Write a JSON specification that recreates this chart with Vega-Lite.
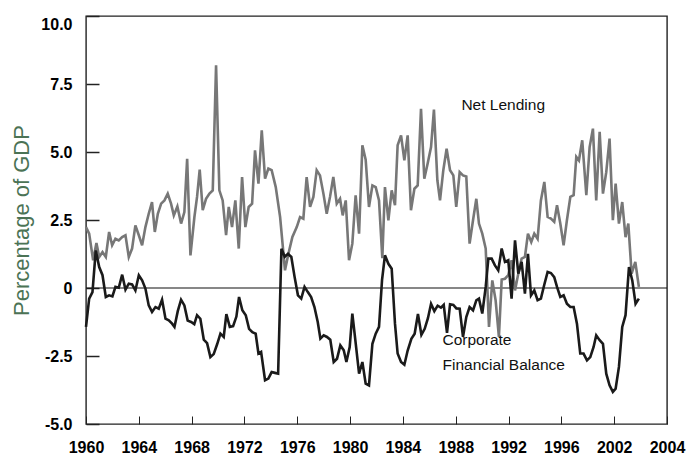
{
  "$schema": "https://vega.github.io/schema/vega-lite/v6.json",
  "width": 581,
  "height": 408,
  "autosize": {"type": "none"},
  "padding": {"left": 86, "top": 16, "right": 21, "bottom": 32},
  "background": "white",
  "config": {"view": {"stroke": "#222222", "strokeWidth": 1.4}, "font": "Liberation Sans"},
  "datasets": {
    "nl": [
      {"t":1960.0,"v":2.24},{"t":1960.24,"v":2.0},{"t":1960.54,"v":1.02},{"t":1960.79,"v":1.65},{"t":1961.0,"v":1.14},{"t":1961.25,"v":1.32},{"t":1961.5,"v":1.14},{"t":1961.75,"v":2.06},{"t":1961.98,"v":1.57},{"t":1962.23,"v":1.81},{"t":1962.48,"v":1.75},{"t":1962.74,"v":1.87},{"t":1962.99,"v":1.94},{"t":1963.24,"v":1.14},{"t":1963.49,"v":1.45},{"t":1963.74,"v":2.3},{"t":1964.0,"v":1.94},{"t":1964.25,"v":1.57},{"t":1964.5,"v":2.24},{"t":1964.75,"v":2.73},{"t":1965.0,"v":3.16},{"t":1965.21,"v":2.06},{"t":1965.44,"v":2.73},{"t":1965.69,"v":3.1},{"t":1965.94,"v":3.22},{"t":1966.19,"v":3.47},{"t":1966.44,"v":3.1},{"t":1966.65,"v":2.67},{"t":1966.92,"v":3.0},{"t":1967.2,"v":2.37},{"t":1967.45,"v":2.79},{"t":1967.66,"v":4.75},{"t":1967.91,"v":1.2},{"t":1968.21,"v":2.61},{"t":1968.41,"v":3.35},{"t":1968.61,"v":4.35},{"t":1968.84,"v":2.86},{"t":1969.09,"v":3.28},{"t":1969.35,"v":3.47},{"t":1969.6,"v":3.59},{"t":1969.85,"v":8.19},{"t":1970.1,"v":3.59},{"t":1970.35,"v":3.22},{"t":1970.61,"v":1.94},{"t":1970.81,"v":2.98},{"t":1971.06,"v":2.24},{"t":1971.31,"v":3.22},{"t":1971.57,"v":1.45},{"t":1971.82,"v":4.08},{"t":1972.07,"v":2.24},{"t":1972.32,"v":2.98},{"t":1972.58,"v":3.1},{"t":1972.8,"v":5.06},{"t":1973.06,"v":3.84},{"t":1973.31,"v":5.8},{"t":1973.56,"v":4.02},{"t":1973.81,"v":4.39},{"t":1974.06,"v":4.33},{"t":1974.37,"v":3.71},{"t":1974.7,"v":2.61},{"t":1975.07,"v":0.65},{"t":1975.33,"v":1.26},{"t":1975.63,"v":1.88},{"t":1975.96,"v":2.24},{"t":1976.21,"v":2.61},{"t":1976.46,"v":2.55},{"t":1976.71,"v":4.08},{"t":1976.97,"v":2.98},{"t":1977.22,"v":3.35},{"t":1977.47,"v":4.33},{"t":1977.72,"v":4.14},{"t":1977.98,"v":3.47},{"t":1978.23,"v":2.73},{"t":1978.48,"v":3.35},{"t":1978.73,"v":4.08},{"t":1978.99,"v":3.1},{"t":1979.24,"v":3.28},{"t":1979.44,"v":2.67},{"t":1979.67,"v":3.22},{"t":1979.92,"v":1.02},{"t":1980.17,"v":1.63},{"t":1980.42,"v":3.41},{"t":1980.68,"v":2.0},{"t":1980.93,"v":5.25},{"t":1981.18,"v":4.72},{"t":1981.43,"v":2.98},{"t":1981.69,"v":3.77},{"t":1981.94,"v":3.71},{"t":1982.19,"v":3.22},{"t":1982.44,"v":1.1},{"t":1982.64,"v":3.71},{"t":1982.9,"v":2.49},{"t":1983.15,"v":3.59},{"t":1983.4,"v":3.04},{"t":1983.6,"v":5.25},{"t":1983.86,"v":5.61},{"t":1984.11,"v":4.69},{"t":1984.36,"v":5.61},{"t":1984.61,"v":2.86},{"t":1984.87,"v":3.65},{"t":1985.12,"v":3.77},{"t":1985.37,"v":6.59},{"t":1985.62,"v":4.02},{"t":1985.87,"v":4.57},{"t":1986.13,"v":5.18},{"t":1986.35,"v":6.56},{"t":1986.61,"v":3.96},{"t":1986.81,"v":3.22},{"t":1987.06,"v":4.33},{"t":1987.31,"v":5.12},{"t":1987.57,"v":4.33},{"t":1987.82,"v":4.14},{"t":1988.04,"v":2.98},{"t":1988.3,"v":4.26},{"t":1988.55,"v":4.14},{"t":1988.8,"v":4.1},{"t":1989.05,"v":1.63},{"t":1989.31,"v":2.49},{"t":1989.56,"v":3.28},{"t":1989.76,"v":2.37},{"t":1990.01,"v":2.0},{"t":1990.27,"v":1.45},{"t":1990.52,"v":-1.43},{"t":1990.77,"v":0.28},{"t":1991.02,"v":-0.45},{"t":1991.27,"v":-1.8},{"t":1991.48,"v":0.31},{"t":1991.73,"v":0.34},{"t":1991.98,"v":0.47},{"t":1992.23,"v":1.02},{"t":1992.49,"v":-0.09},{"t":1992.74,"v":0.53},{"t":1992.99,"v":1.08},{"t":1993.24,"v":1.14},{"t":1993.47,"v":2.0},{"t":1993.72,"v":1.69},{"t":1993.95,"v":2.0},{"t":1994.2,"v":1.81},{"t":1994.45,"v":3.22},{"t":1994.71,"v":3.9},{"t":1994.96,"v":2.61},{"t":1995.21,"v":2.55},{"t":1995.46,"v":2.43},{"t":1995.67,"v":3.04},{"t":1995.92,"v":2.37},{"t":1996.17,"v":1.57},{"t":1996.42,"v":2.49},{"t":1996.68,"v":3.35},{"t":1996.93,"v":3.41},{"t":1997.13,"v":4.82},{"t":1997.33,"v":4.69},{"t":1997.58,"v":5.43},{"t":1997.89,"v":3.41},{"t":1998.14,"v":5.18},{"t":1998.39,"v":5.86},{"t":1998.64,"v":3.22},{"t":1998.9,"v":5.74},{"t":1999.15,"v":3.47},{"t":1999.4,"v":4.26},{"t":1999.65,"v":5.49},{"t":1999.9,"v":2.49},{"t":2000.11,"v":3.84},{"t":2000.36,"v":2.37},{"t":2000.61,"v":3.16},{"t":2000.86,"v":1.87},{"t":2001.07,"v":2.37},{"t":2001.32,"v":0.53},{"t":2001.6,"v":0.96},{"t":2001.87,"v":0.04}
    ],
    "cfb": [
      {"t":1960.0,"v":-1.43},{"t":1960.24,"v":-0.39},{"t":1960.49,"v":-0.15},{"t":1960.74,"v":1.38},{"t":1961.0,"v":0.77},{"t":1961.25,"v":0.47},{"t":1961.5,"v":-0.33},{"t":1961.75,"v":-0.27},{"t":1962.0,"v":-0.31},{"t":1962.23,"v":0.04},{"t":1962.48,"v":0.01},{"t":1962.74,"v":0.49},{"t":1962.99,"v":-0.06},{"t":1963.24,"v":0.16},{"t":1963.49,"v":0.13},{"t":1963.74,"v":-0.09},{"t":1964.0,"v":0.47},{"t":1964.25,"v":0.28},{"t":1964.5,"v":-0.02},{"t":1964.75,"v":-0.64},{"t":1965.0,"v":-0.88},{"t":1965.26,"v":-0.7},{"t":1965.51,"v":-0.76},{"t":1965.76,"v":-0.43},{"t":1966.02,"v":-1.13},{"t":1966.27,"v":-1.19},{"t":1966.52,"v":-1.31},{"t":1966.7,"v":-1.43},{"t":1966.95,"v":-0.85},{"t":1967.2,"v":-0.43},{"t":1967.45,"v":-0.64},{"t":1967.7,"v":-1.2},{"t":1967.96,"v":-1.25},{"t":1968.2,"v":-1.33},{"t":1968.41,"v":-1.0},{"t":1968.66,"v":-1.13},{"t":1968.92,"v":-1.9},{"t":1969.17,"v":-2.03},{"t":1969.42,"v":-2.54},{"t":1969.67,"v":-2.43},{"t":1969.93,"v":-2.07},{"t":1970.18,"v":-1.68},{"t":1970.43,"v":-1.8},{"t":1970.63,"v":-0.96},{"t":1970.89,"v":-1.43},{"t":1971.14,"v":-1.4},{"t":1971.39,"v":-1.05},{"t":1971.59,"v":-0.33},{"t":1971.84,"v":-0.82},{"t":1972.1,"v":-1.0},{"t":1972.35,"v":-1.5},{"t":1972.6,"v":-1.62},{"t":1972.85,"v":-1.68},{"t":1973.06,"v":-2.41},{"t":1973.26,"v":-2.35},{"t":1973.56,"v":-3.39},{"t":1973.81,"v":-3.33},{"t":1974.06,"v":-3.09},{"t":1974.31,"v":-3.12},{"t":1974.55,"v":-3.15},{"t":1974.8,"v":1.44},{"t":1975.05,"v":1.15},{"t":1975.3,"v":1.26},{"t":1975.55,"v":1.14},{"t":1975.8,"v":0.4},{"t":1976.05,"v":-0.27},{"t":1976.3,"v":-0.39},{"t":1976.55,"v":0.04},{"t":1976.8,"v":-0.15},{"t":1977.05,"v":-0.33},{"t":1977.3,"v":-0.7},{"t":1977.55,"v":-1.25},{"t":1977.75,"v":-1.86},{"t":1978.0,"v":-1.74},{"t":1978.25,"v":-1.8},{"t":1978.5,"v":-1.9},{"t":1978.76,"v":-2.72},{"t":1979.01,"v":-2.6},{"t":1979.26,"v":-2.11},{"t":1979.52,"v":-2.29},{"t":1979.72,"v":-2.72},{"t":1979.97,"v":-2.17},{"t":1980.17,"v":-0.94},{"t":1980.37,"v":-1.8},{"t":1980.68,"v":-3.15},{"t":1980.93,"v":-2.72},{"t":1981.18,"v":-3.52},{"t":1981.43,"v":-3.58},{"t":1981.69,"v":-2.05},{"t":1981.94,"v":-1.68},{"t":1982.19,"v":-1.43},{"t":1982.42,"v":0.3},{"t":1982.64,"v":1.2},{"t":1982.9,"v":0.89},{"t":1983.15,"v":0.71},{"t":1983.4,"v":-1.31},{"t":1983.6,"v":-2.41},{"t":1983.86,"v":-2.72},{"t":1984.11,"v":-2.82},{"t":1984.36,"v":-2.3},{"t":1984.64,"v":-1.87},{"t":1984.89,"v":-1.68},{"t":1985.14,"v":-0.95},{"t":1985.4,"v":-1.72},{"t":1985.65,"v":-1.5},{"t":1985.9,"v":-1.1},{"t":1986.13,"v":-0.58},{"t":1986.38,"v":-0.85},{"t":1986.63,"v":-0.65},{"t":1986.88,"v":-0.72},{"t":1987.09,"v":-0.62},{"t":1987.34,"v":-1.65},{"t":1987.57,"v":-0.6},{"t":1987.82,"v":-0.62},{"t":1988.05,"v":-0.75},{"t":1988.3,"v":-0.76},{"t":1988.55,"v":-1.8},{"t":1988.8,"v":-1.07},{"t":1989.05,"v":-0.7},{"t":1989.31,"v":-0.82},{"t":1989.56,"v":-0.45},{"t":1989.76,"v":-0.39},{"t":1990.01,"v":-0.94},{"t":1990.27,"v":0.04},{"t":1990.47,"v":1.08},{"t":1990.72,"v":1.08},{"t":1990.97,"v":0.83},{"t":1991.22,"v":0.65},{"t":1991.48,"v":1.45},{"t":1991.73,"v":0.96},{"t":1991.98,"v":1.02},{"t":1992.23,"v":-0.39},{"t":1992.49,"v":1.75},{"t":1992.74,"v":0.53},{"t":1992.99,"v":0.96},{"t":1993.24,"v":-0.21},{"t":1993.47,"v":1.26},{"t":1993.7,"v":-0.27},{"t":1993.95,"v":-0.09},{"t":1994.2,"v":-0.45},{"t":1994.45,"v":-0.39},{"t":1994.71,"v":0.13},{"t":1994.96,"v":0.59},{"t":1995.21,"v":0.55},{"t":1995.46,"v":0.4},{"t":1995.67,"v":0.04},{"t":1995.92,"v":-0.33},{"t":1996.17,"v":-0.27},{"t":1996.42,"v":-0.58},{"t":1996.68,"v":-0.7},{"t":1996.93,"v":-0.7},{"t":1997.18,"v":-1.31},{"t":1997.43,"v":-2.41},{"t":1997.68,"v":-2.41},{"t":1997.94,"v":-2.66},{"t":1998.19,"v":-2.54},{"t":1998.44,"v":-2.17},{"t":1998.64,"v":-1.74},{"t":1998.9,"v":-1.92},{"t":1999.15,"v":-2.05},{"t":1999.4,"v":-3.15},{"t":1999.65,"v":-3.58},{"t":1999.9,"v":-3.82},{"t":2000.11,"v":-3.7},{"t":2000.36,"v":-2.9},{"t":2000.61,"v":-1.43},{"t":2000.86,"v":-1.0},{"t":2001.12,"v":0.77},{"t":2001.37,"v":0.28},{"t":2001.62,"v":-0.58},{"t":2001.87,"v":-0.39}
    ]
  },
  "layer": [
    {
      "data": {"values": [{}]},
      "mark": {"type": "rule", "color": "#111111", "strokeWidth": 1.1},
      "encoding": {"y": {"datum": 0, "type": "quantitative"}}
    },
    {
      "data": {"name": "nl"},
      "mark": {"type": "line", "color": "#777777", "strokeWidth": 2.6},
      "encoding": {
        "x": {
          "field": "t", "type": "quantitative",
          "scale": {"domain": [1960, 2004], "nice": false, "zero": false},
          "axis": {
            "values": [1960,1961,1962,1963,1964,1965,1966,1967,1968,1969,1970,1971,1972,1973,1974,1975,1976,1977,1978,1979,1980,1981,1982,1983,1984,1985,1986,1987,1988,1989,1990,1991,1992,1993,1994,1995,1996,1997,1998,1999,2000,2001,2002,2003,2004],
            "labelExpr": "datum.value % 4 == 0 ? (datum.value == 2000 ? '2002' : format(datum.value, 'd')) : ''",
            "tickSize": -8, "tickColor": "#222222", "tickWidth": 1,
            "domain": false, "grid": false,
            "labelFont": "Liberation Sans", "labelFontWeight": "bold", "labelFontSize": 16, "labelColor": "#000000",
            "labelPadding": 23, "labelFlush": false, "labelOverlap": false,
            "title": null
          }
        },
        "y": {
          "field": "v", "type": "quantitative",
          "scale": {"domain": [-5, 10], "nice": false, "zero": false},
          "axis": {
            "values": [-5, -2.5, 0, 2.5, 5, 7.5, 10],
            "labelExpr": "datum.value == 0 ? '0' : (datum.value < 0 ? '-' : '') + format(abs(datum.value), '.1f')",
            "tickSize": -13, "tickColor": "#222222", "tickWidth": 1.5,
            "domain": false, "grid": false,
            "labelFont": "Liberation Sans", "labelFontWeight": "bold", "labelFontSize": 16, "labelColor": "#000000",
            "labelPadding": 27,
            "labelBaseline": {"condition": {"test": "datum.value == 10", "value": "top"}, "value": "middle"},
            "title": "Percentage of GDP",
            "titleFont": "Liberation Sans", "titleFontWeight": "normal", "titleFontSize": 22, "titleColor": "#4b7355",
            "titlePadding": 7
          }
        }
      }
    },
    {
      "data": {"name": "cfb"},
      "mark": {"type": "line", "color": "#1a1a1a", "strokeWidth": 2.6},
      "encoding": {
        "x": {"field": "t", "type": "quantitative"},
        "y": {"field": "v", "type": "quantitative"}
      }
    },
    {
      "data": {"values": [{}]},
      "mark": {"type": "text", "text": "Net Lending", "align": "left", "baseline": "alphabetic", "font": "Liberation Sans", "fontSize": 15.5, "color": "#111111"},
      "encoding": {"x": {"datum": 1988.43, "type": "quantitative"}, "y": {"datum": 6.53, "type": "quantitative"}}
    },
    {
      "data": {"values": [{}]},
      "mark": {"type": "text", "text": "Corporate", "align": "left", "baseline": "alphabetic", "font": "Liberation Sans", "fontSize": 15.5, "color": "#111111"},
      "encoding": {"x": {"datum": 1987.0, "type": "quantitative"}, "y": {"datum": -2.1, "type": "quantitative"}}
    },
    {
      "data": {"values": [{}]},
      "mark": {"type": "text", "text": "Financial Balance", "align": "left", "baseline": "alphabetic", "font": "Liberation Sans", "fontSize": 15.5, "color": "#111111"},
      "encoding": {"x": {"datum": 1987.0, "type": "quantitative"}, "y": {"datum": -3.0, "type": "quantitative"}}
    }
  ]
}
